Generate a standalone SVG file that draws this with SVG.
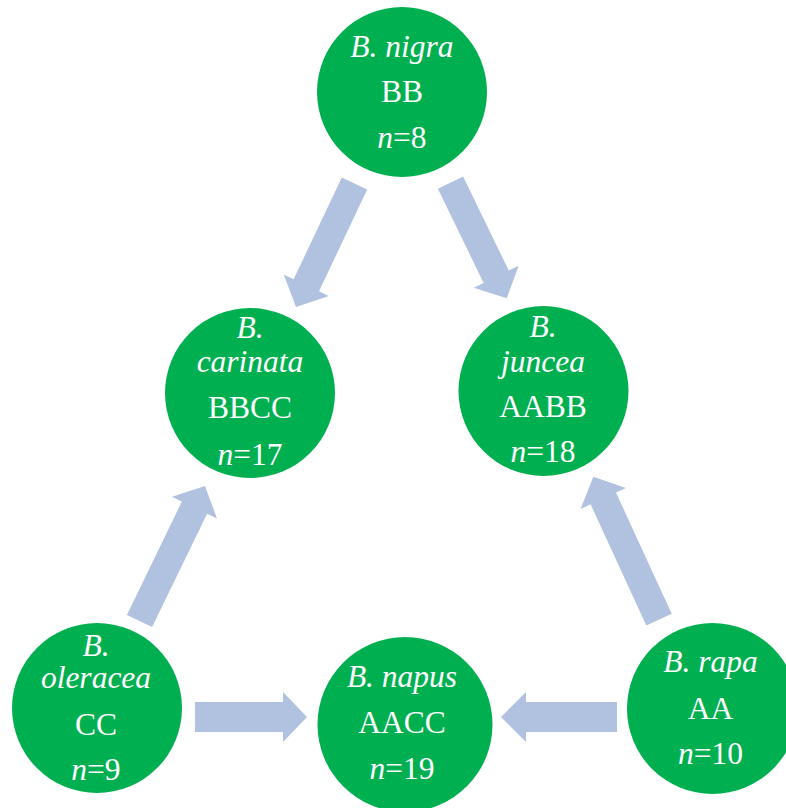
<svg xmlns="http://www.w3.org/2000/svg" width="786" height="808" viewBox="0 0 786 808">
<style>
.node{fill:#00B050}
.t{font-family:'Liberation Serif','Times New Roman',serif;font-size:31.5px;fill:#ffffff;text-anchor:middle}
.i{font-style:italic}
.arrow{fill:#B0C2DF}
</style>
<rect width="786" height="808" fill="#ffffff"/>
<g id="connectors">
<polygon class="arrow" points="341.8,177.5 293.6,279.3 283.7,274.6 296,307 328.9,296 319,291.3 367.2,189.5"/>
<polygon class="arrow" points="463.1,176.4 508.8,270.6 518.7,265.7 506.7,298.3 473.8,287.7 483.6,282.9 437.9,188.7"/>
<polygon class="arrow" points="126.9,614.9 181.9,501.5 172,496.7 205,486 217,518.5 207.1,513.7 152.1,627.1"/>
<polygon class="arrow" points="646.3,625.4 590.6,504.3 580.6,509 593.3,476.7 626,488 616,492.6 671.7,613.7"/>
<polygon class="arrow" points="195,702 283,702 283,692 307,717 283,742 283,732 195,732"/>
<polygon class="arrow" points="617,702 526,702 526,692 501,717 526,742 526,732 617,732"/>
</g>
<g id="nigra">
<circle class="node" cx="402" cy="92" r="85"/>
<text class="t i" x="402" y="57">B. nigra</text>
<text class="t" x="402" y="102">BB</text>
<text class="t" x="402" y="148"><tspan class="i">n</tspan>=8</text>
</g>
<g id="carinata">
<circle class="node" cx="250" cy="393" r="85"/>
<text class="t i" x="250" y="338">B.</text>
<text class="t i" x="250" y="372">carinata</text>
<text class="t" x="250" y="418">BBCC</text>
<text class="t" x="250" y="465"><tspan class="i">n</tspan>=17</text>
</g>
<g id="juncea">
<circle class="node" cx="543.5" cy="391" r="85"/>
<text class="t i" x="543" y="337">B.</text>
<text class="t i" x="543" y="372">juncea</text>
<text class="t" x="543" y="417">AABB</text>
<text class="t" x="543" y="462"><tspan class="i">n</tspan>=18</text>
</g>
<g id="oleracea">
<circle class="node" cx="97" cy="708" r="85"/>
<text class="t i" x="96" y="656">B.</text>
<text class="t i" x="96" y="688">oleracea</text>
<text class="t" x="96" y="735">CC</text>
<text class="t" x="96" y="780"><tspan class="i">n</tspan>=9</text>
</g>
<g id="napus">
<circle class="node" cx="405" cy="724.5" r="87.5"/>
<text class="t i" x="402" y="687">B. napus</text>
<text class="t" x="402" y="733">AACC</text>
<text class="t" x="402" y="779"><tspan class="i">n</tspan>=19</text>
</g>
<g id="rapa">
<circle class="node" cx="712.5" cy="708.5" r="85.5"/>
<text class="t i" x="710.5" y="672">B. rapa</text>
<text class="t" x="710.5" y="719">AA</text>
<text class="t" x="710.5" y="764"><tspan class="i">n</tspan>=10</text>
</g>
</svg>
